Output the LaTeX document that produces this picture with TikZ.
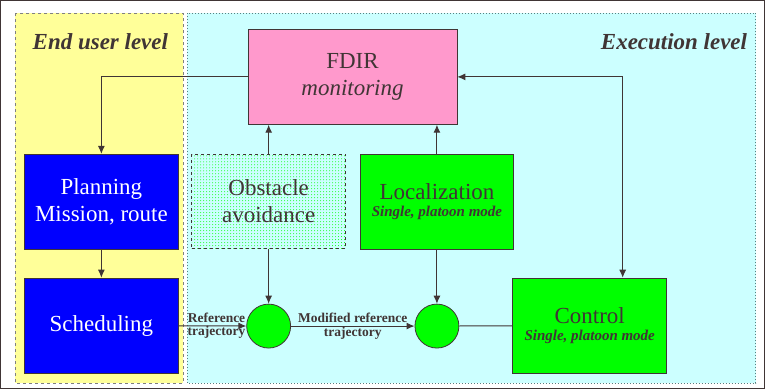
\documentclass[tikz,border=0pt]{standalone}
\usepackage{fontspec}
\setmainfont{Liberation Serif}
\usepackage{tikz}
\usetikzlibrary{arrows.meta,patterns}

\definecolor{userbg}{HTML}{FFFF99}
\definecolor{execbg}{HTML}{CCFFFF}
\definecolor{fdirpink}{HTML}{FF99CC}
\definecolor{planblue}{HTML}{0000FF}
\definecolor{ctrlgreen}{HTML}{00FF00}
\definecolor{ink}{HTML}{403535}
\newcommand{\modefont}{\fontsize{15}{17}\selectfont\bfseries\itshape}

\begin{document}
\begin{tikzpicture}[x=1pt,y=-1pt,>={Latex[length=8pt,width=7pt]},
        every path/.style={draw=ink,line width=1pt},
        block/.style={draw=ink,line width=0.8pt,minimum width=154pt,minimum height=95pt,
            inner sep=0pt,align=center,text=ink,font=\fontsize{23}{27.5}\selectfont},
        junction/.style={circle,draw=ink,line width=0.8pt,fill=ctrlgreen,minimum size=44pt,inner sep=0pt},
        tag/.style={text=ink,align=center,inner sep=0pt,font=\fontsize{13.5}{13.5}\selectfont\bfseries},
        title/.style={text=ink,inner sep=0pt,font=\fontsize{23}{26}\selectfont\bfseries\itshape}]
        \useasboundingbox (0,0) rectangle (765,389);
        % the two levels
        \path[fill=userbg,draw=gray,dashed] (15,13) rectangle (183,383);
        \path[fill=execbg,draw=gray!70!teal,dotted] (187,13) rectangle (756,383);
        \node[title] (usertitle) at (100,41) {End user level};
        \node[title,anchor=east] (exectitle) at (748,41) {Execution level};
        % blocks
        \node[block,fill=fdirpink,minimum width=209pt] (fdir) at (352.5,76.5)
            {FDIR\\\textit{monitoring}};
        \node[block,fill=planblue,text=white] (plan) at (101,201.5) {Planning\\Mission, route};
        \node[block,fill=planblue,text=white] (sched) at (101,325.5) {Scheduling};
        \node[block,dashed,minimum height=94pt,fill=execbg,
            postaction={pattern=dots,pattern color=ctrlgreen}] (obst) at (268.5,201) {Obstacle\\avoidance};
        \node[block,fill=ctrlgreen] (loc) at (437,201.5)
            {\raisebox{-4pt}{Localization}\\[-6pt]{\modefont Single, platoon mode}};
        \node[block,fill=ctrlgreen] (ctrl) at (590,325.5)
            {\raisebox{-4pt}{Control}\\[-6pt]{\modefont Single, platoon mode}};
        \node[junction] (sum1) at (268.5,326) {};
        \node[junction] (sum2) at (437,326) {};
        % connections
        \path[->]
        (plan) edge (sched)
        (sched) edge node[tag,pos=0.56] {Reference\\trajectory} (sum1)
        (sum1) edge node[tag] {Modified reference\\trajectory} (sum2)
        (obst) edge (sum1)
        (loc) edge (sum2)
        (obst) edge (obst.north |- fdir.south)
        (loc) edge (loc.north |- fdir.south)
        ;
        \path (sum2) -- (ctrl);
        \draw[->] (fdir.west) -| (plan.north);
        \draw[<->] (fdir.east) -| ([xshift=33pt]ctrl.north);
\end{tikzpicture}
\end{document}
